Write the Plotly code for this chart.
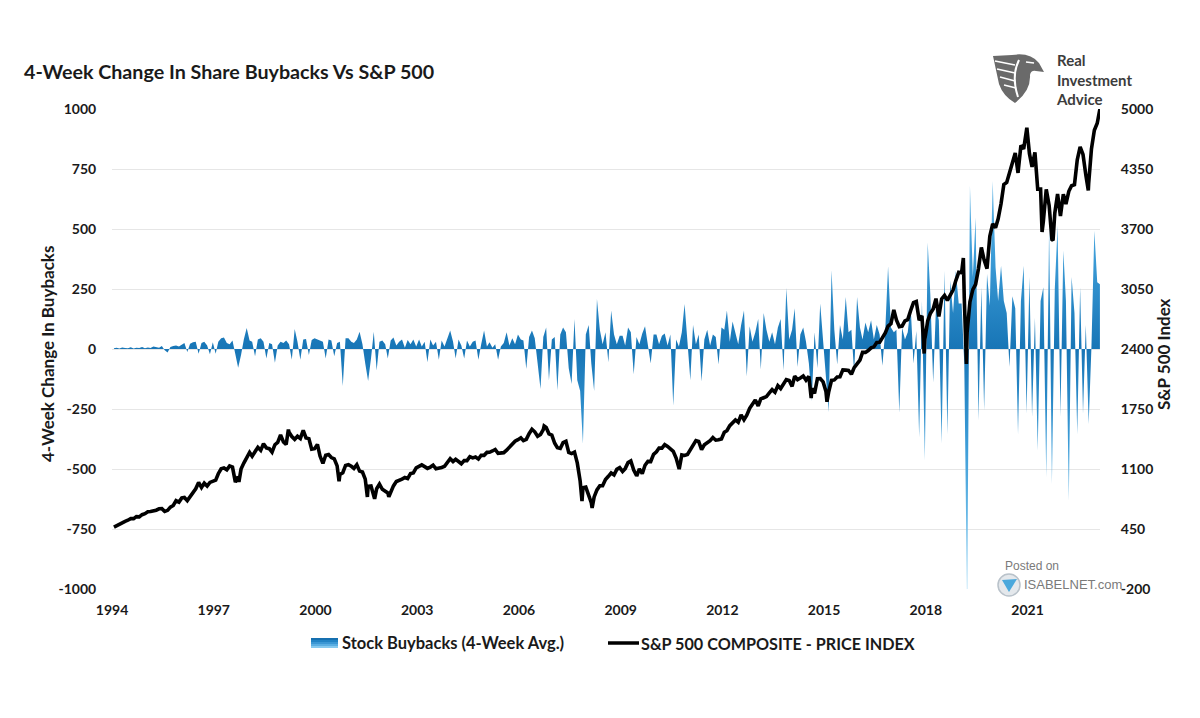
import pandas as pd
import plotly.graph_objects as go

# ---------------- data ----------------
buyback_months = pd.date_range("1995-01-31", periods=350, freq="ME")
buyback_values = (
    [3, 5, 2, 6, 4, 3, 7, 2, 5, 4, 8, 3]                      # 1995
    + [6, 4, 10, 8, 5, 12, -5, -15, 8, 12, 15, 10]            # 1996
    + [18, 25, -12, 22, 28, 30, -20, 25, 30, 15, -22, 28]     # 1997
    + [-20, 30, 45, 48, 25, 20, 35, -30, -78, -25, 40, 88]    # 1998
    + [35, 30, -30, 40, 45, 30, -40, 25, 20, -57, 15, 30]     # 1999
    + [25, 35, 20, -45, 83, 30, -45, 40, 42, -25, 38, 45]     # 2000
    + [40, 35, 30, -40, 40, 35, -30, 25, 30, -154, 45, 45]    # 2001
    + [30, 25, 40, 72, 20, -60, -133, -40, 72, -90, 30, 35]   # 2002
    + [20, -40, 35, 48, 15, 30, 40, 5, 38, 20, 40, 10]        # 2003
    + [40, 10, 30, -55, 40, 15, 30, -45, 35, 10, 45, 77]      # 2004
    + [30, -40, 40, 15, -40, 35, 10, 30, 35, -45, 20, 77]     # 2005
    + [10, 28, 5, 20, -45, 10, 25, 70, 15, 45, 20, 60]        # 2006
    + [40, 35, -83, 50, 77, 45, -60, -167, 50, 90, -130, 40]  # 2007
    + [50, -173, 60, 90, 70, -80, -146, 125, -130, -175, -396, 60]  # 2008
    + [100, -60, -175, 208, 80, 20, 70, -55, 160, 60, 20, 55]  # 2009
    + [55, 15, 90, 70, -105, 50, 20, 65, 95, 25, -60, 60]     # 2010
    + [60, 20, 55, 65, 15, 60, -236, 40, 10, 70, 187, 30]     # 2011
    + [-130, 100, 20, 60, -135, 40, 80, 15, 60, 50, -65, 90]  # 2012
    + [80, 160, 30, 115, 60, 20, 100, 160, -115, 95, 30, 70]  # 2013
    + [125, -85, 150, 80, 30, 70, 20, 90, 125, -90, 254, 40]  # 2014
    + [80, 170, -75, 60, 90, 30, -60, -217, 70, -80, 190, 40]  # 2015
    + [-120, -262, 328, 80, -65, 100, 40, 217, 70, 80, -100, 217]  # 2016
    + [90, 40, 110, 70, 120, 40, 100, 60, -70, 80, 345, 90]   # 2017
    + [70, 80, -266, 90, 40, 70, 180, -60, 75, -368, 200, -465]  # 2018
    + [444, 230, -140, 175, 120, -395, 326, -355, 285, 150, 326, 190]  # 2019
    + [190, -60, -1100, 680, 300, 548, -298, 257, -255, 312, 180, 700]  # 2020
    + [340, 200, 347, 200, 150, -75, 220, 170, -355, 200, 347, -270]  # 2021
    + [300, -283, 130, -423, 200, 257, -534, 520, -563, 250, 515, -283]  # 2022
    + [410, 200, -632, 300, 150, -355, 257, -270, 100, -312, 10, 493]  # 2023
    + [278, 270]                                                # 2024
)

sp_months = pd.date_range("1995-01-31", periods=350, freq="ME")
sp_values = (
    [470, 487, 501, 515, 533, 545, 562, 562, 584, 582, 605, 616]
    + [636, 640, 646, 654, 669, 671, 640, 652, 687, 705, 757, 741]
    + [786, 791, 757, 801, 848, 885, 954, 899, 947, 915, 955, 970]
    + [980, 1049, 1102, 1112, 1091, 1134, 1121, 957, 1017, 1099, 1164, 1229]
    + [1280, 1238, 1286, 1335, 1302, 1373, 1329, 1320, 1283, 1363, 1389, 1469]
    + [1394, 1366, 1499, 1452, 1421, 1455, 1431, 1518, 1437, 1429, 1315, 1320]
    + [1366, 1240, 1160, 1249, 1256, 1224, 1211, 1134, 1041, 1060, 1139, 1148]
    + [1130, 1107, 1147, 1077, 1067, 990, 912, 916, 815, 886, 936, 880]
    + [856, 841, 848, 917, 964, 975, 990, 1008, 996, 1051, 1058, 1112]
    + [1131, 1145, 1126, 1107, 1121, 1141, 1102, 1104, 1115, 1130, 1174, 1212]
    + [1181, 1204, 1181, 1157, 1192, 1191, 1234, 1220, 1229, 1207, 1249, 1248]
    + [1280, 1281, 1295, 1311, 1270, 1270, 1277, 1304, 1336, 1378, 1401, 1418]
    + [1438, 1407, 1421, 1482, 1531, 1503, 1455, 1474, 1527, 1549, 1481, 1468]
    + [1379, 1331, 1323, 1386, 1400, 1280, 1267, 1283, 1166, 969, 896, 903]
    + [826, 735, 798, 873, 919, 919, 987, 1021, 1057, 1036, 1096, 1115]
    + [1074, 1104, 1169, 1187, 1089, 1031, 1102, 1049, 1141, 1183, 1181, 1258]
    + [1286, 1327, 1326, 1364, 1345, 1321, 1292, 1219, 1131, 1253, 1247, 1258]
    + [1312, 1366, 1408, 1398, 1310, 1362, 1379, 1407, 1441, 1412, 1416, 1426]
    + [1498, 1515, 1569, 1598, 1631, 1606, 1686, 1633, 1682, 1757, 1806, 1848]
    + [1783, 1859, 1872, 1884, 1924, 1960, 1931, 2003, 1972, 2018, 2068, 2059]
    + [1995, 2105, 2068, 2086, 2107, 2063, 2104, 1972, 1920, 2079, 2080, 2044]
    + [1940, 1932, 2060, 2065, 2097, 2099, 2174, 2171, 2168, 2126, 2199, 2239]
    + [2279, 2364, 2363, 2384, 2412, 2423, 2470, 2472, 2519, 2575, 2648, 2674]
    + [2824, 2714, 2641, 2648, 2705, 2718, 2816, 2902, 2914, 2711, 2760, 2507]
    + [2704, 2784, 2834, 2946, 2752, 2942, 2980, 2926, 2977, 3038, 3141, 3231]
    + [3226, 2954, 2585, 2912, 3044, 3100, 3271, 3500, 3363, 3270, 3622, 3756]
    + [3714, 3811, 3973, 4181, 4204, 4298, 4395, 4523, 4308, 4605, 4567, 4766]
    + [4516, 4374, 4530, 4132, 4132, 3785, 4130, 3955, 3586, 3872, 4080, 3840]
    + [4077, 3970, 4109, 4169, 4180, 4450, 4589, 4508, 4288, 4194, 4568, 4770]
    + [4846, 5000]
)

# intra-month extremes visible on the weekly line
sp_extreme_dates = ["1998-10-08", "2000-03-24", "2001-09-21", "2002-07-23", "2002-10-09",
                    "2003-03-11", "2007-10-09", "2008-11-20", "2009-03-09", "2010-07-02",
                    "2011-10-03", "2015-08-25", "2016-02-11", "2018-12-24", "2020-02-19",
                    "2020-03-23", "2022-01-03", "2022-06-16", "2022-10-12", "2023-10-27"]
sp_extreme_values = [959, 1527, 966, 797, 777,
                     800, 1565, 752, 677, 1022,
                     1099, 1868, 1829, 2351, 3386,
                     2237, 4797, 3667, 3577, 4117]

x_tick_dates = ["1995-01-10", "1998-01-10", "2001-01-10", "2004-01-10", "2007-01-10",
                "2010-01-10", "2013-01-10", "2016-01-10", "2019-01-10", "2022-01-10"]
x_tick_labels = ["1994", "1997", "2000", "2003", "2006", "2009", "2012", "2015", "2018", "2021"]

left_ticks = [-1000, -750, -500, -250, 0, 250, 500, 750, 1000]
right_ticks = [-200, 450, 1100, 1750, 2400, 3050, 3700, 4350, 5000]

series_names = ["Stock Buybacks (4-Week Avg.)", "S&P 500 COMPOSITE - PRICE INDEX"]

# ---------------- layout helpers ----------------
OFF = 8                      # page body margin of the rendered html
FIG_W, FIG_H = 1200 - OFF, 718 - OFF
L, R, T, B = 112, 1100, 109, 589     # plot area in reference pixels
W, H = R - L, B - T


def px(x, y):
    return (x - L) / W, (B - y) / H


def path_px(cmds):
    out = []
    for c in cmds:
        op = c[0]
        nums = c[1:]
        parts = [op]
        for i in range(0, len(nums), 2):
            xx, yy = px(nums[i], nums[i + 1])
            parts.append(f"{xx:.5f},{yy:.5f}")
        out.append(" ".join(parts))
    return " ".join(out)


sp = pd.DataFrame({"d": list(sp_months) + list(pd.to_datetime(sp_extreme_dates)),
                   "v": list(sp_values) + list(sp_extreme_values)}).sort_values("d")

FONT = "Lato"

fig = go.Figure()

fig.add_trace(go.Scatter(
    x=buyback_months, y=buyback_values, name=series_names[0],
    mode="lines", line=dict(width=0, color="#1b7cbd"),
    fill="tozeroy",
    fillgradient=dict(type="vertical", start=-1000, stop=1000,
                      colorscale=[[0, "#8fd2f4"], [0.3, "#3d9dd8"], [0.5, "#1775b6"],
                                  [0.7, "#3d9dd8"], [1, "#8fd2f4"]]),
    yaxis="y", hoverinfo="skip", showlegend=False,
))

fig.add_trace(go.Scatter(
    x=sp["d"], y=sp["v"], name=series_names[1],
    mode="lines", line=dict(width=3.6, color="#000000"),
    yaxis="y2", hoverinfo="skip", showlegend=False,
))

tickfont = dict(family=FONT, size=14, color="#1a1a1a", weight="bold")

fig.update_layout(
    width=FIG_W, height=FIG_H,
    margin=dict(l=L - OFF, r=FIG_W - (R - OFF), t=T - OFF, b=FIG_H - (B - OFF)),
    paper_bgcolor="white", plot_bgcolor="white",
    font=dict(family=FONT, color="#1a1a1a"),
    showlegend=False,
    xaxis=dict(type="date", range=["1995-01-10", "2024-03-01"],
               tickvals=x_tick_dates, ticktext=x_tick_labels,
               showgrid=False, zeroline=False, showline=False,
               ticks="outside", ticklen=8, tickcolor="rgba(0,0,0,0)",
               tickfont=tickfont),
    yaxis=dict(range=[-1000, 1000], tickvals=left_ticks,
               ticktext=[str(v) for v in left_ticks],
               showgrid=True, gridcolor="#e6e6e6", gridwidth=1,
               zeroline=False, showline=False,
               ticks="outside", ticklen=12, tickcolor="rgba(0,0,0,0)",
               tickfont=tickfont),
    yaxis2=dict(range=[-200, 5000], tickvals=right_ticks,
                ticktext=[str(v) for v in right_ticks],
                overlaying="y", side="right", showgrid=False, zeroline=False,
                showline=False, ticks="outside", ticklen=17,
                tickcolor="rgba(0,0,0,0)", tickfont=tickfont),
)

ann = []


def add_text(x, y, text, size, color="#1a1a1a", bold=True, xanchor="left",
             angle=0, family=FONT):
    xx, yy = px(x, y)
    ann.append(dict(x=xx, y=yy, xref="paper", yref="paper", text=text,
                    showarrow=False, xanchor=xanchor, yanchor="middle",
                    textangle=angle, align="left",
                    font=dict(family=family, size=size, color=color,
                              weight="bold" if bold else "normal")))


add_text(22, 71, "4-Week Change In Share Buybacks Vs S&P 500", 19.7)
add_text(47, 354, "4-Week Change In Buybacks", 17, xanchor="center", angle=-90)
add_text(1163, 354, "S&P 500 Index", 17, xanchor="center", angle=-90)

# legend (drawn by hand so the spacing matches)
add_text(340, 643, series_names[0], 16.5)
add_text(639, 643, series_names[1], 16.2)

# logo text
add_text(1054, 79, "Real<br>Investment<br>Advice", 15, color="#3c3c3c")

# watermark
add_text(1003, 566, "Posted on", 12, color="#7a7a7a", bold=False, family="Liberation Sans")
add_text(1022, 584, "ISABELNET.com", 13, color="#7a7a7a", bold=False, family="Liberation Sans")

fig.update_layout(annotations=ann)

shapes = []
# legend swatches
swatch_cols = ["#1670b0", "#2283c4", "#3b97d4", "#5aaee2", "#86c9ef"]
for i, c in enumerate(swatch_cols):
    x0, y0 = px(311, 638 + i * 2)
    x1, y1 = px(338, 640 + i * 2)
    shapes.append(dict(type="rect", xref="paper", yref="paper", x0=x0, y0=y0,
                       x1=x1, y1=y1, fillcolor=c, line=dict(width=0)))
lx0, ly0 = px(608, 643)
lx1, _ = px(639, 643)
shapes.append(dict(type="line", xref="paper", yref="paper", x0=lx0, y0=ly0,
                   x1=lx1, y1=ly0, line=dict(color="black", width=3.5)))

# eagle emblem
shapes.append(dict(type="path", xref="paper", yref="paper", layer="above",
                   path=path_px([("M", 993, 56), ("L", 1012, 55), ("Q", 1030, 52, 1039, 63),
                                 ("L", 1044, 72), ("L", 1036, 71), ("Q", 1031, 70, 1030, 75),
                                 ("Q", 1031, 91, 1015, 103), ("Q", 1003, 96, 999, 84), ("Z",)]),
                   fillcolor="#6a6a6a", line=dict(width=0)))
for (x0, y0, x1, y1) in [(995, 61, 1015, 65), (997, 69, 1015, 73), (1000, 77, 1015, 81),
                         (1004, 85, 1016, 88)]:
    shapes.append(dict(type="path", xref="paper", yref="paper", layer="above",
                       path=path_px([("M", x0, y0), ("L", x1, y1)]),
                       line=dict(color="white", width=1.6)))
shapes.append(dict(type="path", xref="paper", yref="paper", layer="above",
                   path=path_px([("M", 1019, 60), ("Q", 1011, 76, 1018, 97)]),
                   line=dict(color="white", width=2)))
shapes.append(dict(type="path", xref="paper", yref="paper", layer="above",
                   path=path_px([("M", 1026, 62), ("L", 1034, 63)]),
                   line=dict(color="white", width=1.5)))

# isabelnet icon
cx0, cy0 = px(998, 574)
cx1, cy1 = px(1020, 596)
shapes.append(dict(type="circle", xref="paper", yref="paper", layer="above",
                   x0=cx0, y0=cy0, x1=cx1, y1=cy1, fillcolor="#e4e8ec",
                   line=dict(color="#b9c2ca", width=1.5)))
shapes.append(dict(type="path", xref="paper", yref="paper", layer="above",
                   path=path_px([("M", 1002, 580), ("L", 1017, 579), ("L", 1009, 592), ("Z",)]),
                   fillcolor="#4aa8dc", line=dict(width=0)))

fig.update_layout(shapes=shapes)

fig.write_html("out.html")
